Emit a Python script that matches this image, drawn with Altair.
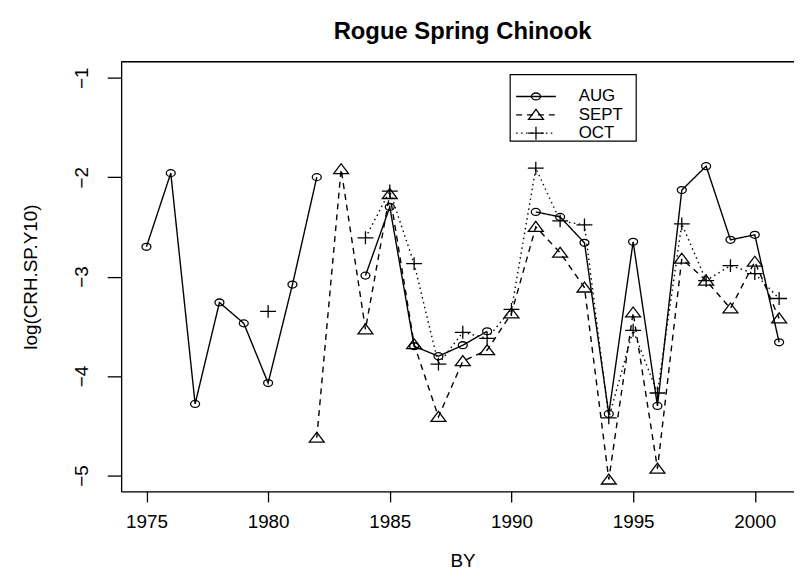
import altair as alt
import pandas as pd

# ---------------- data ----------------
years = list(range(1975, 2002))
aug = [-2.70, -1.96, -4.28, -3.26, -3.47, -4.07, -3.08, -2.00, None, -2.99,
       -2.30, -3.70, -3.80, -3.69, -3.55, None, -2.35, -2.40, -2.66, -4.38,
       -2.65, -4.30, -2.13, -1.89, -2.63, -2.58, -3.66]
sept = [None, None, None, None, None, None, None, -4.62, -1.92, -3.53,
        -2.17, -3.68, -4.41, -3.85, -3.74, -3.37, -2.50, -2.76, -3.11, -5.04,
        -3.36, -4.93, -2.82, -3.04, -3.32, -2.85, -3.42]
octo = [None, None, None, None, None, -3.35, None, None, None, -2.61,
        -2.14, -2.87, -3.88, -3.56, -3.62, -3.33, -1.91, -2.44, -2.48, -4.42,
        -3.54, -4.17, -2.47, -3.04, -2.89, -2.97, -3.22]
series_names = ["AUG", "SEPT", "OCT"]
series_values = [aug, sept, octo]
x_ticks = [1975, 1980, 1985, 1990, 1995, 2000]
y_ticks = [-1, -2, -3, -4, -5]
title_text = "Rogue Spring Chinook"
x_title = "BY"
y_title = "log(CRH.SP.Y10)"

# ---------------- styling ----------------
FONT = "Liberation Sans"
W, H = 678, 433
XDOM = [1973.96, 1973.96 + W / 24.52]
YDOM = [-5.16, -0.84]
shapes = {
    "AUG": "M-0.9,0A0.9,0.7,0,1,0,0.9,0A0.9,0.7,0,1,0,-0.9,0Z",
    "SEPT": "M-1.5,0.9L1.5,0.9L0,-1.1Z",
    "OCT": "M-1.6,0L1.6,0M0,-1.3L0,1.3",
}
dashes = {"AUG": [1, 0], "SEPT": [6, 5], "OCT": [1.5, 3.5]}

xs = alt.Scale(domain=XDOM, nice=False, zero=False)
ys = alt.Scale(domain=YDOM, nice=False, zero=False)

xaxis = alt.Axis(values=x_ticks, format="d", title=x_title, grid=False,
                 labelFont=FONT, labelFontSize=19, labelColor="black",
                 labelPadding=11, tickSize=10.5, tickColor="black", tickWidth=1.3,
                 domainColor="black", domainWidth=1.3, labelFlush=False,
                 titleFont=FONT, titleFontSize=19, titleFontWeight="normal",
                 titleColor="black", titleX=344, titleY=76, titleAlign="center",
                 titleBaseline="alphabetic", titleAnchor="start")
yaxis = alt.Axis(values=y_ticks, title=y_title, grid=False,
                 labelFont=FONT, labelFontSize=19, labelColor="black",
                 labelAngle=270, labelAlign="center", labelBaseline="alphabetic",
                 labelPadding=20, tickSize=14, tickColor="black", tickWidth=1.3,
                 domainColor="black", domainWidth=1.3, labelFlush=False,
                 titleFont=FONT, titleFontSize=19, titleFontWeight="normal",
                 titleColor="black", titleAngle=270, titleX=-85, titleY=H / 2,
                 titleAlign="center", titleBaseline="alphabetic", titleAnchor="start")

X = alt.X("year:Q", scale=xs, axis=xaxis)
Y = alt.Y("value:Q", scale=ys, axis=yaxis)

layers = []
for name, vals in zip(series_names, series_values):
    rows = []
    seg = 0
    prev = None
    for yr, v in zip(years, vals):
        if v is None:
            prev = None
            continue
        if prev is None:
            seg += 1
        rows.append({"year": yr, "value": v, "series": name, "seg": seg})
        prev = v
    df = pd.DataFrame(rows)
    base = alt.Chart(df)
    line = base.mark_line(color="black", strokeWidth=1.4,
                          strokeDash=dashes[name]).encode(x=X, y=Y, detail="seg:N")
    pts = base.mark_point(shape=shapes[name], size=100, filled=False,
                          color="black", strokeWidth=1.3, opacity=1).encode(x=X, y=Y)
    layers += [line, pts]

# top border of the plot box
one = pd.DataFrame({"a": [0]})
top_border = alt.Chart(one).mark_rule(color="black", strokeWidth=1.3).encode(
    x=alt.value(0), x2=alt.value(W), y=alt.value(0))
layers.append(top_border)

# main title (centered over R's full plot region)
title = alt.Chart(pd.DataFrame({"t": [title_text]})).mark_text(
    font=FONT, fontSize=24, fontWeight="bold", color="black",
    align="center", baseline="alphabetic").encode(
    x=alt.value(344), y=alt.value(-23), text="t:N")
layers.append(title)

# legend (drawn by hand, like R's legend())
LX0, LX1, LY0, LY1 = 392, 519, 13, 80
leg_box = alt.Chart(one).mark_rect(
    fill="white", stroke="black", strokeWidth=1.2).encode(
    x=alt.value(LX0), x2=alt.value(LX1), y=alt.value(LY0), y2=alt.value(LY1))
layers.append(leg_box)
row_y = [35, 53.5, 72]
for name, ry in zip(series_names, row_y):
    lb = alt.Chart(pd.DataFrame({"label": [name]}))
    layers.append(lb.mark_rule(color="black", strokeWidth=1.3,
                               strokeDash=dashes[name]).encode(
        x=alt.value(398), x2=alt.value(438), y=alt.value(ry)))
    layers.append(lb.mark_point(shape=shapes[name], size=100, filled=False,
                                color="black", strokeWidth=1.3, opacity=1).encode(
        x=alt.value(418), y=alt.value(ry)))
    layers.append(lb.mark_text(font=FONT, fontSize=17, align="left",
                               baseline="middle", color="black").encode(
        x=alt.value(461), y=alt.value(ry), text="label:N"))

chart = alt.layer(*layers).properties(
    width=W, height=H,
    padding={"left": 114, "top": 52, "right": 0, "bottom": 80},
    autosize=alt.AutoSizeParams(type="none"),
).configure_view(stroke="transparent").configure(background="white")

chart.save("out.html", embed_options={"renderer": "svg", "actions": False})
